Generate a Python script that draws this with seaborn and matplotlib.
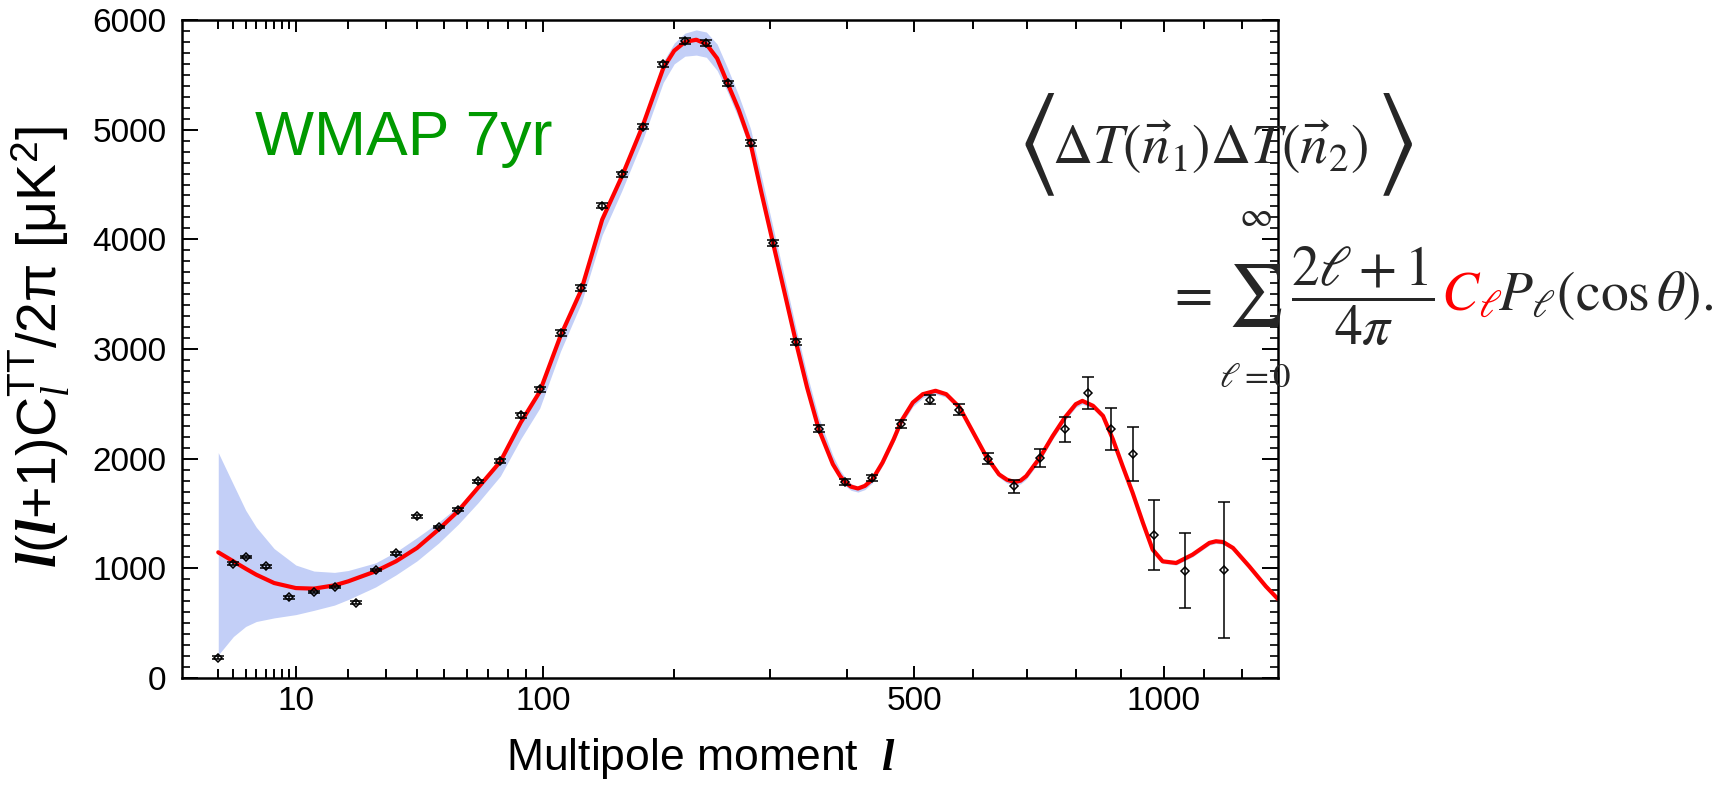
import numpy as np
import pandas as pd
import matplotlib
matplotlib.use("Agg")
import matplotlib.pyplot as plt
import seaborn as sns
from matplotlib.ticker import FixedLocator, MultipleLocator, NullFormatter

# binned WMAP 7yr TT points
bin_l = [2, 3, 4, 6, 9, 13, 17, 22, 27, 33, 40, 48, 56, 65, 76, 87, 98, 111, 125, 140,
         155, 172, 190, 210, 231, 253, 278, 304, 332, 361, 397, 436, 480, 526, 575, 626,
         676, 726, 777, 827, 877, 926, 976, 1052, 1152]
bin_dl = [186, 1043, 1104, 1018, 735, 784, 829, 686, 985, 1137, 1473, 1378, 1534, 1793,
          1982, 2396, 2634, 3146, 3555, 4308, 4592, 5028, 5595, 5808, 5790, 5421, 4875,
          3967, 3061, 2273, 1788, 1823, 2317, 2536, 2448, 2000, 1747, 2003, 2268, 2598,
          2271, 2043, 1308, 979, 985]
bin_err = [12, 12, 12, 12, 12, 12, 12, 12, 12, 12, 12, 12, 14, 16, 18, 22, 24, 25, 25, 26,
           26, 26, 26, 26, 27, 27, 28, 28, 28, 30, 30, 30, 35, 40, 46, 49, 61, 82, 113, 146,
           189, 247, 319, 345, 617]

# best-fit model curve
model_l = [2, 3, 4, 5, 7, 10, 13, 17, 20, 27, 33, 40, 48, 56, 65, 76, 87, 98, 111, 125,
           140, 155, 172, 190, 200, 210, 221, 231, 242, 253, 265, 278, 290, 304, 318, 332,
           346, 361, 380, 390, 397, 405, 415, 425, 436, 451, 468, 480, 498, 514, 535, 553,
           576, 600, 623, 647, 662, 677, 688, 699, 726, 752, 777, 800, 814, 837, 859, 881,
           903, 926, 950, 973, 997, 1030, 1071, 1114, 1131, 1150, 1176, 1220, 1266, 1300]
model_dl = [1146, 1064, 997, 942, 866, 820, 815, 845, 881, 973, 1064, 1186, 1354, 1521,
            1735, 1973, 2330, 2610, 3120, 3540, 4180, 4570, 5030, 5560, 5720, 5800, 5820,
            5780, 5650, 5421, 5180, 4875, 4440, 3967, 3510, 3061, 2650, 2273, 1950, 1840,
            1785, 1745, 1728, 1752, 1811, 1964, 2177, 2345, 2512, 2588, 2619, 2588, 2467,
            2238, 2024, 1857, 1808, 1786, 1800, 1841, 2009, 2207, 2375, 2497, 2527, 2482,
            2390, 2177, 1933, 1689, 1415, 1171, 1064, 1049, 1125, 1232, 1247, 1240, 1186,
            1018, 835, 720]

# cosmic variance band (same l grid as the model)
band_lo = [210, 378, 470, 515, 548, 578, 617, 665, 715, 830, 940, 1068, 1230, 1400, 1598,
           1841, 2180, 2460, 2980, 3420, 4040, 4440, 4900, 5430, 5600, 5670, 5680, 5660,
           5540, 5340, 5100, 4810, 4390, 3920, 3470, 3020, 2615, 2240, 1925, 1810, 1752,
           1712, 1695, 1718, 1780, 1935, 2145, 2310, 2475, 2555, 2590, 2560, 2440, 2210,
           2000, 1830, 1777, 1760, 1770, 1812, 1978, 2178, 2345, 2468, 2498, 2455, 2365,
           2150, 1910, 1665, 1395, 1150, 1045, 1030, 1105, 1212, 1227, 1220, 1167, 1000,
           818, 705]
band_hi = [2055, 1765, 1530, 1375, 1180, 1030, 975, 963, 980, 1050, 1150, 1280, 1420, 1565,
           1750, 1985, 2345, 2630, 3140, 3565, 4200, 4600, 5070, 5620, 5790, 5880, 5910,
           5890, 5780, 5560, 5310, 5010, 4590, 4110, 3650, 3190, 2770, 2380, 2030, 1895,
           1830, 1775, 1745, 1765, 1820, 1975, 2190, 2355, 2520, 2595, 2625, 2595, 2475,
           2245, 2030, 1862, 1812, 1790, 1803, 1845, 2012, 2210, 2378, 2500, 2530, 2485,
           2392, 2180, 1935, 1690, 1418, 1172, 1066, 1050, 1126, 1233, 1248, 1241, 1187,
           1020, 836, 721]

xmajor = [10, 100, 500, 1000]
xminor = [2, 3, 4, 5, 6, 7, 8, 9, 20, 30, 40, 50, 60, 70, 80, 90, 200, 300, 400,
          600, 700, 800, 900, 1100, 1200]

W, H = 1731, 799

sns.set_theme(style="ticks")
plt.rcParams["font.family"] = ["Liberation Sans", "DejaVu Sans"]
plt.rcParams["mathtext.fontset"] = "custom"
plt.rcParams["mathtext.rm"] = "Liberation Sans"
plt.rcParams["mathtext.it"] = "Liberation Serif:italic"
plt.rcParams["mathtext.bf"] = "Liberation Sans:bold"
plt.rcParams["mathtext.bfit"] = "Liberation Serif:italic:bold"

fig = plt.figure(figsize=(W / 100, H / 100), dpi=100)
ax = fig.add_axes([181.7 / W, 1 - 678 / H, 1096.3 / W, 658 / H])

model = pd.DataFrame({"ell": model_l, "dl": model_dl})

ax.fill_between(model_l, band_lo, band_hi, color="#c3cff7", lw=0, zorder=1)
sns.lineplot(data=model, x="ell", y="dl", ax=ax, color="red", lw=3,
             estimator=None, sort=False, zorder=2)
ax.errorbar(bin_l, bin_dl, yerr=bin_err, fmt="D", ms=4.4, mfc="none", mec="black",
            mew=1.1, ecolor="black", elinewidth=1.1, capsize=4.5, capthick=1.4, zorder=4)

# WMAP style x axis: uniform in l^0.4
ax.set_xscale("function", functions=(lambda v: np.sign(v) * np.abs(v) ** 0.4,
                                     lambda v: np.sign(v) * np.abs(v) ** 2.5))
ax.set_xlim(0.5, 1300)
ax.set_ylim(0, 6000)
ax.xaxis.set_major_locator(FixedLocator(xmajor))
ax.set_xticklabels([str(v) for v in xmajor])
ax.xaxis.set_minor_locator(FixedLocator(xminor))
ax.xaxis.set_minor_formatter(NullFormatter())
ax.yaxis.set_major_locator(MultipleLocator(1000))
ax.yaxis.set_minor_locator(MultipleLocator(100))

ax.tick_params(which="both", direction="in", top=True, right=True, color="black",
               labelsize=24, labelcolor="black")
ax.tick_params(axis="x", which="major", length=8.6, width=1.4, pad=6)
ax.tick_params(axis="x", which="minor", length=6.8, width=1.4)
ax.tick_params(axis="y", which="major", length=11.5, width=1.4, pad=11)
ax.tick_params(axis="y", which="minor", length=6, width=1.2)
for sp in ax.spines.values():
    sp.set_linewidth(1.8)
    sp.set_color("black")

ax.set_xlabel(r"Multipole moment  $\mathbfit{l}$", fontsize=32, color="black")
ax.xaxis.set_label_coords((701 - 181.7) / 1096.3, (678 - 770) / 658)
ax.xaxis.label.set_va("baseline")
ax.set_ylabel(r"$\mathbfit{l}$($\mathbfit{l}$+1)C$_{\mathit{l}}^{\mathrm{TT}}$/2π [μK$^{2}$]",
              fontsize=40, color="black")
ax.yaxis.set_label_coords((40 - 181.7) / 1096.3, 0.503)
ax.yaxis.label.set_va("center")

fig.text(255 / W, 1 - 155 / H, "WMAP 7yr", fontsize=45, color="#009900", va="baseline")

# equation, with C_l in red (pieces placed in figure pixels of the reference)
def eq(x, y, s, size, **kw):
    return fig.text(x / W, 1 - y / H, s, fontsize=size, math_fontfamily="stix", **kw)

eq(1036, 145, r"$\langle$", 80, ha="center", va="center")
eq(1052, 164, r"$\Delta T(\vec{n}_1)\Delta T(\vec{n}_2)$", 40, va="baseline")
eq(1394, 145, r"$\rangle$", 80, ha="center", va="center")

eq(1166, 310, r"$=$", 40, va="baseline")
eq(1255, 296, r"$\sum$", 44, ha="center", va="center")
eq(1255, 216, r"$\infty$", 26, ha="center", va="center")
eq(1255, 377, r"$\ell{=}0$", 25, ha="center", va="center")
eq(1363, 296, r"$\dfrac{2\ell+1}{4\pi}$", 40, ha="center", va="center")
eq(1441, 310, r"$C_\ell$", 40, va="baseline", color="red")
eq(1498, 310, r"$P_\ell(\cos\theta).$", 40, va="baseline")

fig.savefig("out.png", dpi=100)
